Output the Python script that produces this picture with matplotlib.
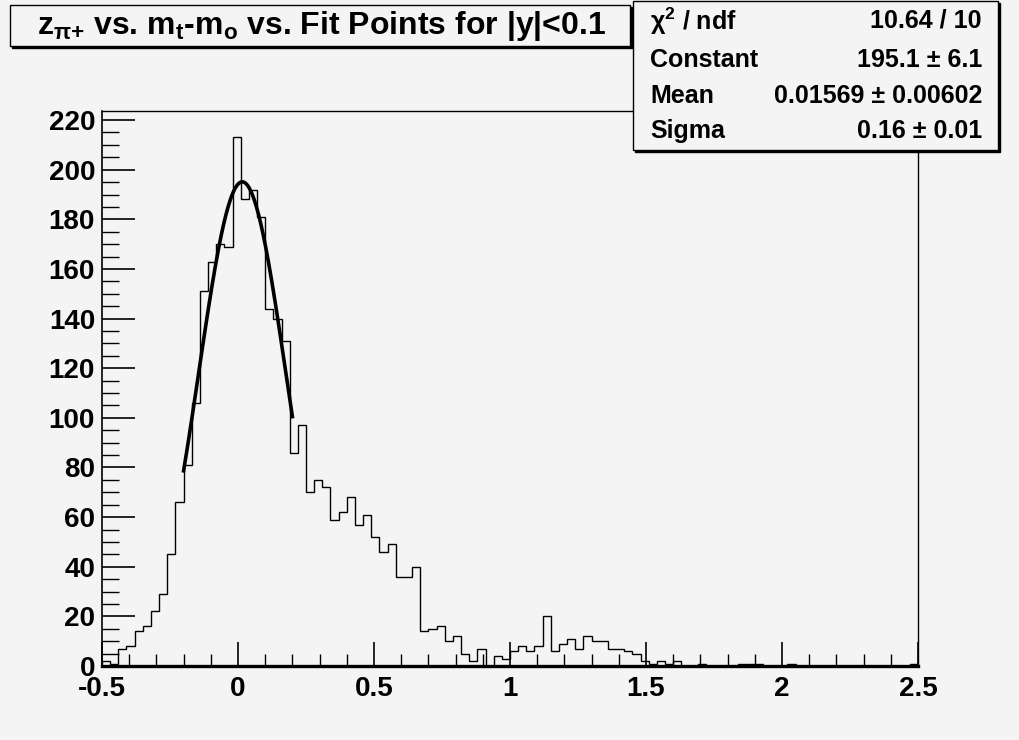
import numpy as np
import matplotlib
matplotlib.use("Agg")
import matplotlib.pyplot as plt
from matplotlib.patches import Rectangle

plt.rcParams['font.family'] = ['Liberation Sans', 'DejaVu Sans']
plt.rcParams['font.weight'] = 'bold'
plt.rcParams['mathtext.fontset'] = 'custom'
plt.rcParams['mathtext.rm'] = 'Liberation Sans:bold'
plt.rcParams['mathtext.it'] = 'Liberation Sans:bold'
plt.rcParams['mathtext.bf'] = 'Liberation Sans:bold'

# histogram: 100 bins from -0.5 to 2.5
x_lo, x_hi, n_bins = -0.5, 2.5, 100
counts = [2, 1, 7, 8, 14, 16, 22, 29, 45, 66,
          81, 106, 151, 163, 170, 169, 213, 188, 192, 181,
          144, 140, 131, 86, 97, 70, 75, 72, 59, 62,
          68, 57, 61, 52, 46, 49, 36, 36, 40, 14,
          15, 16, 10, 12, 5, 2, 7, 0, 4, 3,
          6, 8, 6, 8, 20, 6, 9, 11, 7, 12,
          10, 10, 7, 7, 6, 5, 2, 1, 2, 1,
          2, 0, 0, 1, 0, 0, 0, 0, 1, 1,
          1, 0, 0, 0, 1, 0, 0, 0, 0, 0,
          0, 0, 0, 0, 0, 0, 0, 0, 0, 1]

# gaussian fit result
fit_const, fit_mean, fit_sigma = 195.1, 0.01569, 0.16
fit_range = (-0.2, 0.2)

title = r'z$_{\pi{+}}$ vs. m$_{t}$-m$_{o}$ vs. Fit Points for |y|<0.1'
stat_names = ['χ$^{2}$ / ndf', 'Constant', 'Mean', 'Sigma']
stat_values = ['10.64 / 10', '195.1 ± 6.1', '0.01569 ± 0.00602', '0.16 ± 0.01']

bg = '#f4f4f4'
W, H = 1020, 740

def fx(x):
    return x / W

def fy(y):
    return 1 - y / H

fig = plt.figure(figsize=(W / 100, H / 100), dpi=100, facecolor=bg)
ax = fig.add_axes([fx(102), fy(666), fx(918) - fx(102), fy(111) - fy(666)])
ax.set_facecolor(bg)

edges = np.linspace(x_lo, x_hi, n_bins + 1)
ax.stairs(counts, edges, color='k', lw=1.0)

xf = np.linspace(fit_range[0], fit_range[1], 200)
yf = fit_const * np.exp(-0.5 * ((xf - fit_mean) / fit_sigma) ** 2)
ax.plot(xf, yf, color='k', lw=2.6)

ax.set_xlim(x_lo, x_hi)
ax.set_ylim(0, max(counts) * 1.05)
ax.set_xticks(np.arange(-0.5, 2.51, 0.5))
ax.set_xticklabels(['-0.5', '0', '0.5', '1', '1.5', '2', '2.5'])
ax.set_xticks(np.arange(-0.5, 2.51, 0.1), minor=True)
ax.set_yticks(np.arange(0, 221, 20))
ax.set_yticks(np.arange(0, 224, 5), minor=True)
ax.tick_params(axis='x', which='major', direction='in', length=17, width=1.2,
               labelsize=20, pad=7, top=False)
ax.tick_params(axis='x', which='minor', direction='in', length=9, width=1.0, top=False)
ax.tick_params(axis='y', which='major', direction='in', length=24, width=1.2,
               labelsize=20, pad=5, right=False)
ax.tick_params(axis='y', which='minor', direction='in', length=12, width=1.0, right=False)
for lab in ax.get_xticklabels() + ax.get_yticklabels():
    lab.set_fontweight('bold')
ax.spines['bottom'].set_linewidth(2.4)
ax.spines['left'].set_linewidth(1.2)
ax.spines['top'].set_linewidth(1.0)
ax.spines['right'].set_linewidth(1.0)

# boxes with a dark shadow, ROOT style
def pave(x0, y0, x1, y1):
    fig.add_artist(Rectangle((fx(x0 + 2), fy(y1 + 2)), fx(x1 - x0), fy(y0) - fy(y1),
                             transform=fig.transFigure, facecolor='k', edgecolor='k', lw=1))
    fig.add_artist(Rectangle((fx(x0), fy(y1)), fx(x1 - x0), fy(y0) - fy(y1),
                             transform=fig.transFigure, facecolor=bg, edgecolor='k', lw=1))

pave(10, 5, 630, 46)
fig.text(fx(322), fy(26), title, ha='center', va='center', fontsize=23, fontweight='bold')

pave(633, 1, 998, 150)
rows_y = [21, 60, 96, 131]
for name, val, yy in zip(stat_names, stat_values, rows_y):
    fig.text(fx(650), fy(yy), name, ha='left', va='center', fontsize=18, fontweight='bold')
    fig.text(fx(982), fy(yy), val, ha='right', va='center', fontsize=18, fontweight='bold')

fig.savefig('out.png', dpi=100, facecolor=bg)
